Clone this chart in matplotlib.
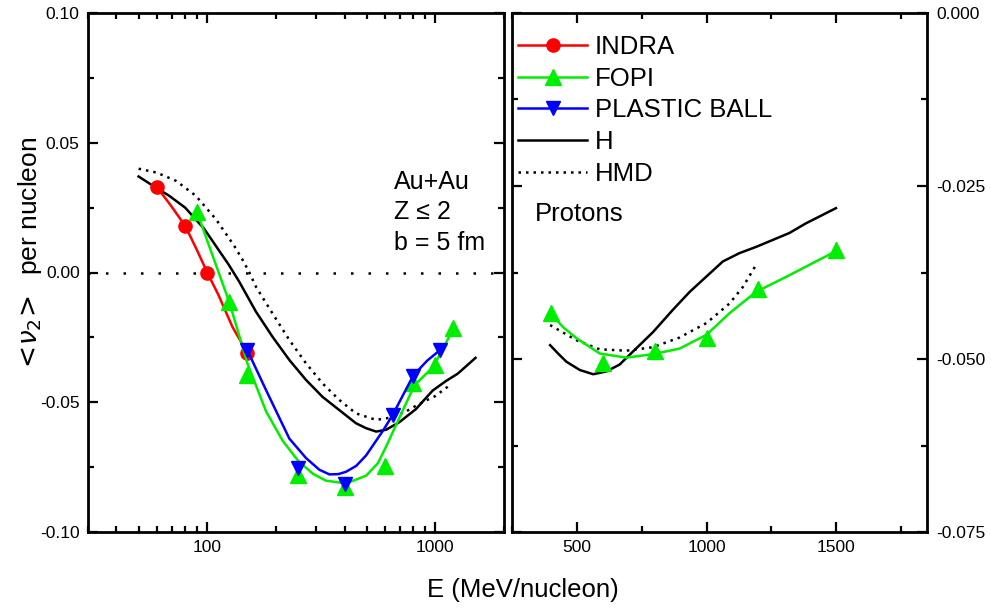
import matplotlib
matplotlib.use('Agg')
import matplotlib.pyplot as plt
from matplotlib.lines import Line2D
from matplotlib.ticker import MultipleLocator, LogLocator, NullFormatter, FormatStrFormatter

plt.rcParams['font.family'] = ['Liberation Sans', 'DejaVu Sans']
plt.rcParams['mathtext.fontset'] = 'dejavusans'
plt.rcParams['axes.unicode_minus'] = False

RED = '#ff0000'
GREEN = '#00ee00'
BLUE = '#0000ff'

# ---- Au+Au, Z<=2 (left panel, log E) ----
indra_e = [60, 80, 100, 150]
indra_v = [0.033, 0.018, 0.0, -0.031]
indra_line_e = [60, 69, 80, 89.5, 100, 112, 129, 150]
indra_line_v = [0.033, 0.026, 0.018, 0.0092, 0.0, -0.0087, -0.021, -0.031]

fopi_e = [90, 125, 150, 250, 400, 600, 800, 1000, 1200]
fopi_v = [0.0235, -0.0115, -0.0395, -0.078, -0.0825, -0.0745, -0.0425, -0.0358, -0.0215]
fopi_line_e = [90, 125, 150, 181, 214, 250, 290, 331, 406, 497, 560, 609, 697, 810, 900, 977, 1200]
fopi_line_v = [0.0235, -0.0115, -0.035, -0.0535, -0.0648, -0.0725, -0.0775, -0.0802, -0.0813, -0.0783,
               -0.0735, -0.067, -0.0558, -0.0435, -0.0395, -0.0365, -0.0217]

pb_e = [150, 250, 400, 650, 800, 1045]
pb_v = [-0.030, -0.0755, -0.0815, -0.0549, -0.0397, -0.030]
pb_line_e = [150, 181, 229, 271, 310, 343, 375, 406, 450, 497, 589, 650, 800, 920, 1045]
pb_line_v = [-0.030, -0.0453, -0.0640, -0.0715, -0.0760, -0.0778, -0.0777, -0.0768, -0.0745, -0.0705,
             -0.061, -0.0549, -0.0397, -0.0340, -0.030]

h_e = [50, 60, 68, 80, 97, 124, 138, 163.5, 193, 229, 271, 320, 379, 449, 497, 550, 608, 695,
       823, 973, 1114, 1253, 1500]
h_v = [0.037, 0.0325, 0.0296, 0.025, 0.0168, 0.0031, -0.0035, -0.0151, -0.0247, -0.0337, -0.0414,
       -0.0479, -0.053, -0.0581, -0.0600, -0.0613, -0.0606, -0.0577, -0.0526, -0.0455, -0.0418,
       -0.0390, -0.0329]

hmd_e = [50, 60, 73, 89, 109, 131, 143, 153, 163.5, 193, 229, 271, 320, 379, 449, 550, 650, 745,
         851, 1000, 1150]
hmd_v = [0.040, 0.0385, 0.0353, 0.0296, 0.0206, 0.0104, 0.0048, 0.0, -0.0055, -0.0157, -0.026,
         -0.035, -0.0427, -0.0491, -0.0543, -0.0568, -0.0558, -0.0535, -0.0506, -0.0476, -0.0436]

# ---- Protons (right panel, linear E) ----
fopi_p_e = [400, 600, 800, 1000, 1200, 1500]
fopi_p_v = [-0.0433, -0.0506, -0.0488, -0.0470, -0.0399, -0.0342]
fopi_p_line_e = [397, 450, 499, 588, 691, 793, 896, 1000, 1088, 1191, 1319, 1422, 1500]
fopi_p_line_v = [-0.0434, -0.0455, -0.047, -0.0492, -0.0498, -0.0493, -0.0485, -0.0465, -0.0434,
                 -0.0403, -0.0379, -0.0359, -0.0344]

h_p_e = [397, 430, 460, 512, 563, 614, 665, 717, 794, 870, 935, 999, 1063, 1127, 1191, 1255,
         1319, 1383, 1499]
h_p_v = [-0.0480, -0.0493, -0.0504, -0.0516, -0.0522, -0.0518, -0.0508, -0.0489, -0.0461, -0.0429,
         -0.0403, -0.0381, -0.0359, -0.0347, -0.0338, -0.0328, -0.0318, -0.0304, -0.0282]

hmd_p_e = [397, 499, 588, 691, 793, 896, 935, 1000, 1088, 1140, 1191]
hmd_p_v = [-0.0451, -0.0473, -0.0486, -0.0488, -0.0483, -0.0469, -0.0461, -0.0448, -0.0420, -0.0396,
           -0.0364]

W, H = 991, 610
fig = plt.figure(figsize=(W / 100, H / 100), dpi=100)
ax1 = fig.add_axes([88 / W, 1 - 532 / H, (504 - 88) / W, (532 - 13) / H])
ax2 = fig.add_axes([512 / W, 1 - 532 / H, (927 - 512) / W, (532 - 13) / H])

lw = 1.8
dotted = (0, (1, 2.0))

# left panel
ax1.set_xscale('log')
ax1.axhline(0, color='k', lw=1.8, ls=(0, (1, 6.0)))
ax1.plot(hmd_e, hmd_v, color='k', lw=1.8, ls=dotted)
ax1.plot(h_e, h_v, color='k', lw=lw)
ax1.plot(indra_line_e, indra_line_v, color=RED, lw=lw)
ax1.plot(indra_e, indra_v, 'o', color=RED, ms=9.5)
ax1.plot(fopi_line_e, fopi_line_v, color=GREEN, lw=lw)
ax1.plot(fopi_e, fopi_v, '^', color=GREEN, ms=11)
ax1.plot(pb_line_e, pb_line_v, color=BLUE, lw=lw)
ax1.plot(pb_e, pb_v, 'v', color=BLUE, ms=10)

ax1.set_xlim(30, 2000)
ax1.set_ylim(-0.1, 0.1)
ax1.set_xticks([100, 1000])
ax1.set_xticklabels(['100', '1000'])
ax1.xaxis.set_minor_locator(LogLocator(base=10, subs=range(2, 10)))
ax1.xaxis.set_minor_formatter(NullFormatter())
ax1.yaxis.set_major_locator(MultipleLocator(0.05))
ax1.yaxis.set_minor_locator(MultipleLocator(0.025))
ax1.yaxis.set_major_formatter(FormatStrFormatter('%.2f'))

ax1.text(0.735, 0.674, 'Au+Au', transform=ax1.transAxes, fontsize=18, va='center')
ax1.text(0.735, 0.616, 'Z \u2264 2', transform=ax1.transAxes, fontsize=18, va='center')
ax1.text(0.735, 0.556, 'b = 5 fm', transform=ax1.transAxes, fontsize=18, va='center')

# right panel
ax2.plot(hmd_p_e, hmd_p_v, color='k', lw=1.8, ls=dotted)
ax2.plot(h_p_e, h_p_v, color='k', lw=lw)
ax2.plot(fopi_p_line_e, fopi_p_line_v, color=GREEN, lw=lw)
ax2.plot(fopi_p_e, fopi_p_v, '^', color=GREEN, ms=11)

ax2.set_xlim(250, 1850)
ax2.set_ylim(-0.075, 0.0)
ax2.xaxis.set_major_locator(MultipleLocator(500))
ax2.xaxis.set_minor_locator(MultipleLocator(250))
ax2.yaxis.set_major_locator(MultipleLocator(0.025))
ax2.yaxis.set_minor_locator(MultipleLocator(0.0125))
ax2.yaxis.set_major_formatter(FormatStrFormatter('%.3f'))

ax2.text(0.055, 0.612, 'Protons', transform=ax2.transAxes, fontsize=18.5, va='center')

for ax in (ax1, ax2):
    for s in ax.spines.values():
        s.set_linewidth(2.0)
    ax.tick_params(which='both', direction='in', top=True, right=True, width=1.6,
                   labelsize=12.5, pad=6)
    ax.tick_params(which='major', length=7)
    ax.tick_params(which='minor', length=4)
ax2.tick_params(axis='y', which='both', left=True, right=True, labelleft=False, labelright=True, pad=7)

handles = [
    Line2D([], [], color=RED, lw=lw, marker='o', ms=9.5),
    Line2D([], [], color=GREEN, lw=lw, marker='^', ms=11),
    Line2D([], [], color=BLUE, lw=lw, marker='v', ms=10),
    Line2D([], [], color='k', lw=lw),
    Line2D([], [], color='k', lw=1.8, ls=dotted),
]
labels = ['INDRA', 'FOPI', 'PLASTIC BALL', 'H', 'HMD']
ax2.legend(handles, labels, loc='upper left', bbox_to_anchor=(518 / W, 1 - 35 / H),
           bbox_transform=fig.transFigure, frameon=False, fontsize=18.5,
           handlelength=2.7, handletextpad=0.3, labelspacing=0.3, borderpad=0, borderaxespad=0)

fig.text(523 / W, 1 - 590 / H, 'E (MeV/nucleon)', ha='center', va='center', fontsize=18.5)
fig.text(30 / W, 1 - 255 / H, r'$<\!\nu_2\!>$  per nucleon', ha='center', va='center',
         rotation=90, fontsize=19)

fig.savefig('out.png', dpi=100)
